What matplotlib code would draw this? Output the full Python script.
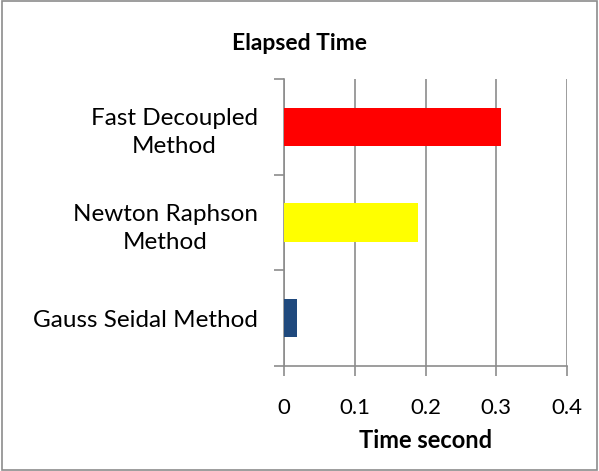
import matplotlib.pyplot as plt
from matplotlib.patches import Rectangle
from matplotlib.ticker import FixedLocator

plt.rcParams['font.family'] = ['Lato', 'DejaVu Sans']

# Data
methods = ["Gauss Seidal Method", "Newton Raphson\nMethod", "Fast Decoupled\nMethod"]
elapsed = [0.018, 0.189, 0.306]
colors = ["#1F497D", "#FFFF00", "#FF0000"]
xticks = [0, 0.1, 0.2, 0.3, 0.4]

fig = plt.figure(figsize=(5.99, 4.71), dpi=100)
ax = fig.add_axes([284.3 / 599, 1 - 366 / 471, (567 - 284.3) / 599, (366 - 79) / 471])

ax.barh(range(len(methods)), elapsed, height=0.4, color=colors, zorder=3)

ax.set_xlim(0, 0.4)
ax.set_ylim(-0.5, len(methods) - 0.5)
ax.set_xticks(xticks)
ax.set_xticklabels([f"{t:g}" for t in xticks], fontsize=16)
ax.set_yticks(range(len(methods)))
ax.set_yticklabels(methods, fontsize=17.5, multialignment='center', linespacing=1.45)
ax.yaxis.set_minor_locator(FixedLocator([-0.5, 0.5, 1.5, 2.5]))
ax.tick_params(axis='y', which='major', length=0, pad=19)
ax.tick_params(axis='y', which='minor', length=7, color='#8c8c8c', width=1.2)
ax.tick_params(axis='x', length=7, color='#8c8c8c', width=1.2, pad=16)

ax.grid(axis='x', color='#8c8c8c', linewidth=1.2, zorder=0)
for side in ['top', 'right']:
    ax.spines[side].set_visible(False)
for side in ['left', 'bottom']:
    ax.spines[side].set_color('#8c8c8c')
    ax.spines[side].set_linewidth(1.2)

ax.set_xlabel("Time second", fontsize=17, fontweight='bold', labelpad=8)
fig.text(0.5, 1 - 43 / 471, "Elapsed Time", ha='center', va='center',
         fontsize=16.5, fontweight='bold')

fig.patches.append(Rectangle((0.003, 0.003), 0.994, 0.994, transform=fig.transFigure,
                             fill=False, edgecolor='#8c8c8c', linewidth=1.2))

fig.savefig("out.png", dpi=100)
